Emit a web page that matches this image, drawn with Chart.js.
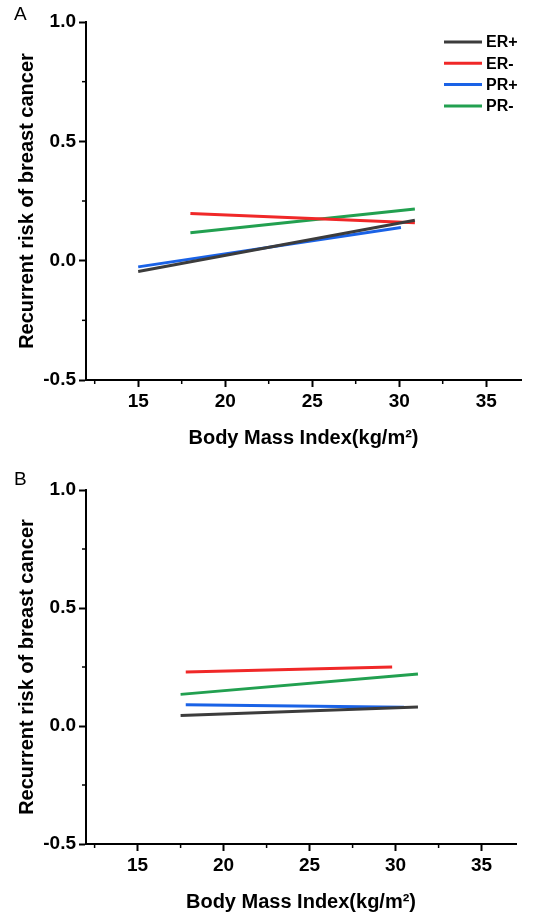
<!DOCTYPE html>
<html>
<head>
<meta charset="utf-8">
<script src="https://cdn.jsdelivr.net/npm/chart.js@4.4.0/dist/chart.umd.min.js"></script>
<style>
    body { margin: 0; background: #fff; }
    .panel { position: relative; width: 536px; height: 457px; }
    .tag { position: absolute; left: 14px; top: 3px; font: 19px "Liberation Sans", Arial, sans-serif; color: #000; }
</style>
</head>
<body>
<div class="panel"><div class="tag">A</div><canvas id="chartA" width="536" height="457"></canvas></div>
<div class="panel"><div class="tag" style="top:11px">B</div><canvas id="chartB" width="536" height="457"></canvas></div>
<script>
// Panel A (two end points per fitted line)
const bmiA_ERpos = [15.0, 30.9];
const riskA_ERpos = [-0.045, 0.169];
const bmiA_ERneg = [18.0, 30.9];
const riskA_ERneg = [0.198, 0.159];
const bmiA_PRpos = [15.0, 30.1];
const riskA_PRpos = [-0.026, 0.139];
const bmiA_PRneg = [18.0, 30.9];
const riskA_PRneg = [0.117, 0.216];

// Panel B
const bmiB_ERpos = [17.5, 31.3];
const riskB_ERpos = [0.045, 0.080];
const bmiB_ERneg = [17.8, 29.8];
const riskB_ERneg = [0.229, 0.250];
const bmiB_PRpos = [17.8, 30.5];
const riskB_PRpos = [0.090, 0.079];
const bmiB_PRneg = [17.5, 31.3];
const riskB_PRneg = [0.134, 0.220];

const seriesLabels = ['ER+', 'ER-', 'PR+', 'PR-'];
const seriesColors = ['#3c3c3c', '#f02828', '#1a62e6', '#22a050'];

const xTickValues = [12.5, 15, 17.5, 20, 22.5, 25, 27.5, 30, 32.5, 35];
const yTickValues = [-0.5, -0.25, 0, 0.25, 0.5, 0.75, 1.0];

const isMajorX = v => v % 5 === 0;
const isMajorY = v => Math.abs(v * 2 - Math.round(v * 2)) < 1e-9;

function pts(xs, ys) {
    return xs.map((x, i) => ({ x: x, y: ys[i] }));
}

// short minor ticks, drawn outward
const minorTicks = {
    id: 'minorTicks',
    afterDraw(chart) {
        const ctx = chart.ctx;
        const xs = chart.scales.x, ys = chart.scales.y;
        ctx.save();
        ctx.strokeStyle = '#000';
        ctx.lineWidth = 1.5;
        xTickValues.filter(v => !isMajorX(v)).forEach(v => {
            const px = xs.getPixelForValue(v);
            ctx.beginPath();
            ctx.moveTo(px, xs.top);
            ctx.lineTo(px, xs.top + 4);
            ctx.stroke();
        });
        yTickValues.filter(v => !isMajorY(v)).forEach(v => {
            const py = ys.getPixelForValue(v);
            ctx.beginPath();
            ctx.moveTo(ys.right, py);
            ctx.lineTo(ys.right - 4, py);
            ctx.stroke();
        });
        ctx.restore();
    }
};

// legend box in the upper right of panel A
const insideLegend = {
    id: 'insideLegend',
    afterDraw(chart, args, opts) {
        if (!opts.show) return;
        const ctx = chart.ctx;
        ctx.save();
        ctx.font = 'bold 16px "Liberation Sans", Arial, sans-serif';
        ctx.textBaseline = 'middle';
        ctx.fillStyle = '#000';
        chart.data.datasets.forEach((ds, i) => {
            const y = 42 + i * 21.3;
            ctx.strokeStyle = ds.borderColor;
            ctx.lineWidth = 3;
            ctx.beginPath();
            ctx.moveTo(444, y);
            ctx.lineTo(482, y);
            ctx.stroke();
            ctx.fillText(ds.label, 486, y + 1);
        });
        ctx.restore();
    }
};

function makeChart(id, series, layout, showLegend) {
    const ctx = document.getElementById(id).getContext('2d');
    return new Chart(ctx, {
        type: 'scatter',
        data: {
            datasets: series.map((s, i) => ({
                label: seriesLabels[i],
                data: pts(s[0], s[1]),
                showLine: true,
                borderColor: seriesColors[i],
                backgroundColor: seriesColors[i],
                borderWidth: 3,
                pointRadius: 0
            }))
        },
        options: {
            responsive: false,
            animation: false,
            layout: { padding: { top: layout.top, right: layout.right, left: 0, bottom: 0 } },
            plugins: {
                legend: { display: false },
                tooltip: { enabled: false },
                insideLegend: { show: showLegend }
            },
            scales: {
                x: {
                    type: 'linear',
                    min: 12,
                    max: 37,
                    afterBuildTicks: sc => { sc.ticks = xTickValues.map(v => ({ value: v })); },
                    afterFit: sc => { sc.height = layout.xHeight; },
                    border: { display: true, color: '#000', width: 2 },
                    grid: {
                        drawOnChartArea: false,
                        drawTicks: true,
                        tickLength: 7,
                        tickWidth: 2,
                        tickColor: c => isMajorX(c.tick.value) ? '#000' : 'rgba(0,0,0,0)'
                    },
                    ticks: {
                        color: '#000',
                        padding: 3,
                        maxRotation: 0,
                        autoSkip: false,
                        font: { family: '"Liberation Sans", Arial, sans-serif', size: 19, weight: 'bold' },
                        callback: v => isMajorX(v) ? String(v) : ''
                    },
                    title: {
                        display: true,
                        text: 'Body Mass Index(kg/m²)',
                        color: '#000',
                        padding: { top: 0, bottom: layout.xTitlePad },
                        font: { family: '"Liberation Sans", Arial, sans-serif', size: 20, weight: 'bold' }
                    }
                },
                y: {
                    type: 'linear',
                    min: -0.5,
                    max: 1.0,
                    afterBuildTicks: sc => { sc.ticks = yTickValues.map(v => ({ value: v })); },
                    afterFit: sc => { sc.width = 86; },
                    border: { display: true, color: '#000', width: 2 },
                    grid: {
                        drawOnChartArea: false,
                        drawTicks: true,
                        tickLength: 7,
                        tickWidth: 2,
                        tickColor: c => isMajorY(c.tick.value) ? '#000' : 'rgba(0,0,0,0)'
                    },
                    ticks: {
                        color: '#000',
                        padding: 3,
                        autoSkip: false,
                        font: { family: '"Liberation Sans", Arial, sans-serif', size: 19, weight: 'bold' },
                        callback: v => isMajorY(v) ? v.toFixed(1) : ''
                    },
                    title: {
                        display: true,
                        text: 'Recurrent risk of breast cancer',
                        color: '#000',
                        padding: { top: 15, bottom: 0 },
                        font: { family: '"Liberation Sans", Arial, sans-serif', size: 20, weight: 'bold' }
                    }
                }
            }
        },
        plugins: [minorTicks, insideLegend]
    });
}

makeChart('chartA', [
    [bmiA_ERpos, riskA_ERpos],
    [bmiA_ERneg, riskA_ERneg],
    [bmiA_PRpos, riskA_PRpos],
    [bmiA_PRneg, riskA_PRneg]
], { top: 22, right: 15, xHeight: 77, xTitlePad: 7 }, true);

makeChart('chartB', [
    [bmiB_ERpos, riskB_ERpos],
    [bmiB_ERneg, riskB_ERneg],
    [bmiB_PRpos, riskB_PRpos],
    [bmiB_PRneg, riskB_PRneg]
], { top: 33, right: 20, xHeight: 70, xTitlePad: 0 }, false);
</script>
</body>
</html>
